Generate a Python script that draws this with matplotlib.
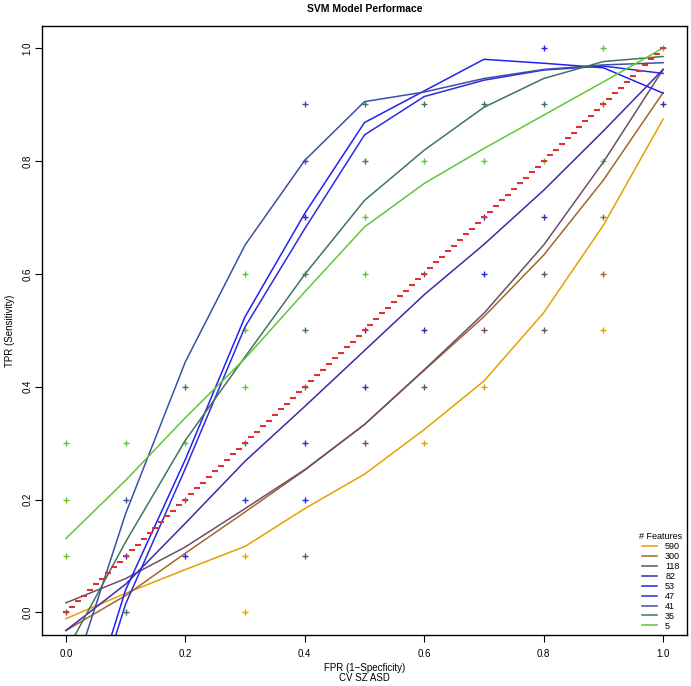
import numpy as np
import matplotlib
matplotlib.use("Agg")
import matplotlib.pyplot as plt

plt.rcParams['font.family'] = ['Liberation Sans', 'DejaVu Sans']

# FPR grid where the fitted curves are evaluated
fpr = [0.0, 0.1, 0.2, 0.3, 0.4, 0.5, 0.6, 0.7, 0.8, 0.9, 1.0]

# fitted TPR curves, one per feature count
features = ['590', '300', '118', '82', '53', '47', '41', '35', '5']
tpr_590 = [-0.011, 0.034, 0.076, 0.117, 0.184, 0.245, 0.324, 0.410, 0.531, 0.686, 0.874]
tpr_300 = [-0.032, 0.030, 0.105, 0.178, 0.252, 0.333, 0.429, 0.524, 0.633, 0.766, 0.921]
tpr_118 = [0.017, 0.060, 0.116, 0.184, 0.253, 0.333, 0.430, 0.530, 0.651, 0.798, 0.962]
tpr_82 = [-0.032, 0.050, 0.158, 0.268, 0.365, 0.464, 0.563, 0.652, 0.748, 0.853, 0.962]
tpr_53 = [-0.30, 0.040, 0.271, 0.524, 0.707, 0.868, 0.924, 0.980, 0.973, 0.965, 0.920]
tpr_47 = [-0.32, 0.015, 0.255, 0.506, 0.680, 0.846, 0.914, 0.943, 0.961, 0.968, 0.955]
tpr_41 = [-0.15, 0.175, 0.444, 0.651, 0.801, 0.905, 0.922, 0.946, 0.962, 0.970, 0.974]
tpr_35 = [-0.07, 0.125, 0.305, 0.453, 0.599, 0.730, 0.819, 0.895, 0.946, 0.976, 0.985]
tpr_5 = [0.131, 0.234, 0.345, 0.450, 0.568, 0.683, 0.760, 0.822, 0.881, 0.940, 1.000]
curvas = [tpr_590, tpr_300, tpr_118, tpr_82, tpr_53, tpr_47, tpr_41, tpr_35, tpr_5]

colores = ['#E69F00', '#A0672A', '#6E4C6E', '#3C2AA8', '#2222F0',
           '#2B2BE0', '#3A4FA8', '#3F7560', '#5FC832']

# raw ROC points (+) per feature count
pts_x = [0.0, 0.0, 0.0, 0.0, 0.1, 0.1, 0.1, 0.1,
         0.2, 0.2, 0.2, 0.2,
         0.3, 0.3, 0.3, 0.3, 0.3, 0.3, 0.3,
         0.4, 0.4, 0.4, 0.4, 0.4, 0.4, 0.4, 0.4, 0.4,
         0.5, 0.5, 0.5, 0.5, 0.5, 0.5, 0.5,
         0.6, 0.6, 0.6, 0.6, 0.6, 0.6,
         0.7, 0.7, 0.7, 0.7, 0.7, 0.7,
         0.8, 0.8, 0.8, 0.8, 0.8, 0.8,
         0.9, 0.9, 0.9, 0.9, 0.9, 0.9,
         1.0, 1.0]
pts_y = [0.3, 0.2, 0.1, 0.0, 0.3, 0.2, 0.1, 0.0,
         0.4, 0.3, 0.2, 0.1,
         0.6, 0.5, 0.4, 0.3, 0.2, 0.1, 0.0,
         0.9, 0.8, 0.7, 0.6, 0.5, 0.4, 0.3, 0.2, 0.1,
         0.9, 0.8, 0.7, 0.6, 0.5, 0.4, 0.3,
         0.9, 0.8, 0.6, 0.5, 0.4, 0.3,
         0.9, 0.8, 0.7, 0.6, 0.5, 0.4,
         1.0, 0.9, 0.8, 0.7, 0.6, 0.5,
         1.0, 0.9, 0.8, 0.7, 0.6, 0.5,
         1.0, 0.9]
pts_serie = ['5', '5', '5', '118', '5', '41', '53', '35',
             '35', '5', '35', '53',
             '5', '5', '5', '35', '47', '590', '590',
             '41', '41', '53', '35', '35', '35', '47', '53', '118',
             '35', '35', '5', '5', '82', '82', '118',
             '35', '5', '118', '82', '118', '590',
             '35', '5', '82', '53', '118', '590',
             '53', '35', '5', '82', '118', '118',
             '5', '300', '5', '300', '300', '590',
             '5', '82']

# chance line, drawn as red dashes
diag = np.arange(0, 101) / 100

fig = plt.figure(figsize=(6.91, 6.86), dpi=100)
ax = fig.add_axes([0.0608, 0.0743, 0.9334, 0.8878])

for feat, col in zip(features, colores):
    xs = [x for x, s in zip(pts_x, pts_serie) if s == feat]
    ys = [y for y, s in zip(pts_y, pts_serie) if s == feat]
    ax.plot(xs, ys, '+', color=col, markersize=4.5, markeredgewidth=1.0)

for feat, col, tpr in zip(features, colores, curvas):
    ax.plot(fpr, tpr, '-', color=col, lw=1.1, label=feat)

ax.plot(diag, diag, '_', color='#E03030', markersize=4.5, markeredgewidth=1.5)

ax.set_xlim(-0.04, 1.04)
ax.set_ylim(-0.04, 1.039)
ax.set_xticks([0.0, 0.2, 0.4, 0.6, 0.8, 1.0])
ax.set_yticks([0.0, 0.2, 0.4, 0.6, 0.8, 1.0])
ax.set_xticklabels(['0.0', '0.2', '0.4', '0.6', '0.8', '1.0'], fontsize=7)
ax.set_yticklabels(['0.0', '0.2', '0.4', '0.6', '0.8', '1.0'], fontsize=7,
                   rotation=90, va='center')
ax.tick_params(direction='out', length=5, width=0.8)
ax.tick_params(axis='x', pad=5)
ax.tick_params(axis='y', pad=2)
for sp in ax.spines.values():
    sp.set_linewidth(1.0)

ax.set_title('SVM Model Performace', fontsize=7.5, fontweight='bold', pad=10)
ax.set_xlabel('FPR (1\u2212Specficity)\nCV SZ ASD', fontsize=7, labelpad=3,
              linespacing=1.05)
ax.set_ylabel('TPR (Sensitivity)', fontsize=7, labelpad=5)

leg = ax.legend(loc='lower right', frameon=False, title='# Features',
                fontsize=6.5, title_fontsize=6.5, handlelength=1.7,
                labelspacing=0.1, borderaxespad=0.1, handletextpad=0.9)

plt.savefig('out.png', dpi=100)
